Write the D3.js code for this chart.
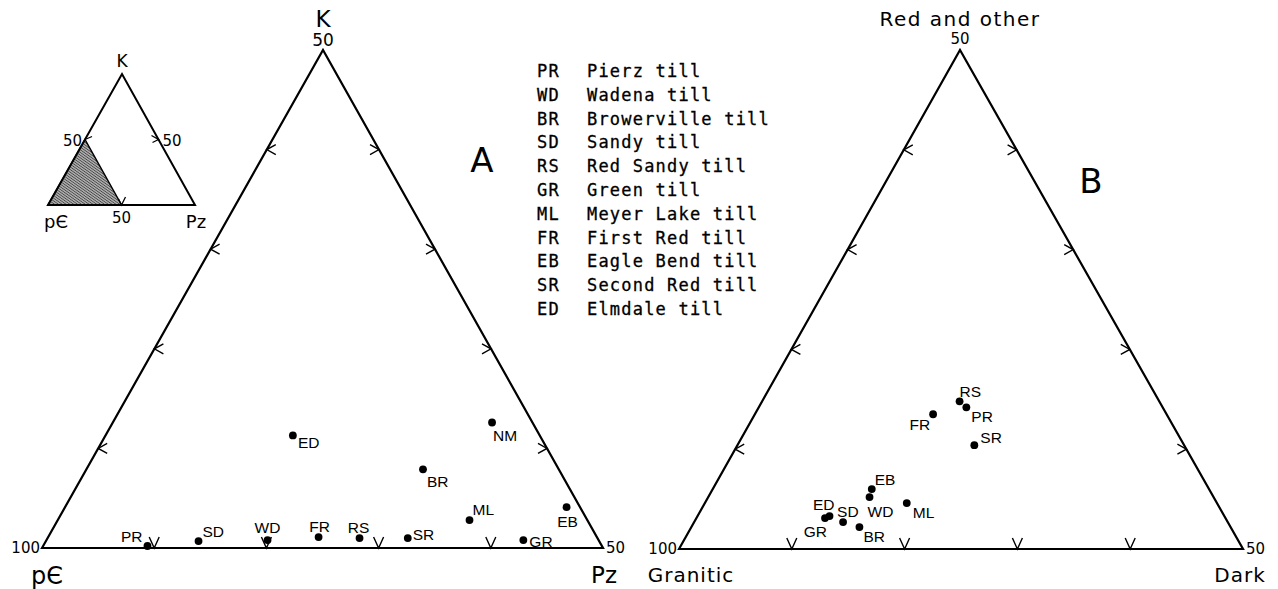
<!DOCTYPE html>
<html><head><meta charset="utf-8">
<script src="https://cdn.jsdelivr.net/npm/d3@7"></script>
<style>body{margin:0;background:#fff}svg{display:block}</style>
</head><body>
<script>
// ---------- DATA ----------
// Triangle A: K (top, 0-50), Pz (right, 0-50), p€ = remainder (50-100)
const codesA = ["PR","SD","WD","FR","ED","RS","SR","ML","GR","EB","BR","NM"];
const kA     = [0.2, 0.7, 0.8, 1.1, 11.3, 1.0, 1.0, 2.8, 0.8, 4.1, 7.9, 12.6];
const pzA    = [9.3, 13.6, 19.7, 24.1, 16.7, 27.8, 32.1, 36.7, 42.5, 44.7, 30.0, 33.8];
// Triangle B: Red and other (top, 0-50), Dark (right, 0-50), Granitic = remainder
const codesB = ["RS","PR","FR","SR","EB","WD","ML","ED","GR","SD","BR"];
const redB   = [14.8, 14.2, 13.5, 10.4, 6.0, 5.2, 4.6, 3.3, 3.1, 2.7, 2.2];
const darkB  = [17.5, 18.4, 15.8, 21.0, 14.1, 14.3, 17.9, 11.7, 11.4, 13.2, 14.9];
// Legend
const legendCodes = ["PR","WD","BR","SD","RS","GR","ML","FR","EB","SR","ED"];
const legendNames = ["Pierz till","Wadena till","Browerville till","Sandy till","Red Sandy till",
  "Green till","Meyer Lake till","First Red till","Eagle Bend till","Second Red till","Elmdale till"];
// Axis ticks (values on the 0-50 scale)
const tickValues = [10, 20, 30, 40];

// ---------- LABEL PLACEMENT (style) ----------
const placeA = {PR:[-5,-4,"end"],SD:[4,-4,"start"],WD:[0,-7,"middle"],FR:[1,-5,"middle"],
  ED:[5,13,"start"],RS:[-1,-5,"middle"],SR:[5,2,"start"],ML:[3,-5,"start"],GR:[6,7,"start"],
  EB:[1,20,"middle"],BR:[4,18,"start"],NM:[1,18,"start"]};
const placeB = {RS:[0,-4,"start"],PR:[5,15,"start"],FR:[-3,16,"end"],SR:[6,-2,"start"],
  EB:[3,-4,"start"],WD:[-2,20,"start"],ML:[6,15,"start"],ED:[5,-6,"end"],GR:[2,19,"end"],
  SD:[-6,-5,"start"],BR:[4,15,"start"]};

const W = 1278, H = 589;
const svg = d3.select("body").append("svg").attr("width", W).attr("height", H);

const defs = svg.append("defs");
const pat = defs.append("pattern").attr("id","hatch").attr("patternUnits","userSpaceOnUse")
  .attr("width",2.2).attr("height",2.2).attr("patternTransform","rotate(-55)");
pat.append("rect").attr("width",2.2).attr("height",2.2).attr("fill","#aaa");
pat.append("line").attr("x1",0).attr("y1",0).attr("x2",0).attr("y2",2.2)
  .attr("stroke","#222").attr("stroke-width",1.1);

const lettering = "'DejaVu Sans', sans-serif";
const labelFont = "'Liberation Sans', Arial, sans-serif";

function makeTernary(frame) {
  const s = d3.scaleLinear().domain([0, 50]).range([0, 1]);
  return function(top, right) {
    const b = s(top), c = s(right);
    return [frame.bl[0] + b*(frame.apex[0]-frame.bl[0]) + c*(frame.br[0]-frame.bl[0]),
            frame.bl[1] + b*(frame.apex[1]-frame.bl[1]) + c*(frame.br[1]-frame.bl[1])];
  };
}

function drawTriangle(frame, tops, rights, codes, place) {
  const pt = makeTernary(frame);
  const g = svg.append("g");
  const corners = [pt(0,0), pt(50,0), pt(0,50)];
  g.append("path").attr("d", d3.line()(corners) + "Z")
    .attr("fill","none").attr("stroke","#000").attr("stroke-width",2.2).attr("stroke-linejoin","miter");
  const tk = g.append("g").attr("stroke","#000").attr("stroke-width",1.4).attr("fill","none");
  tickValues.forEach(v => {
    const [x,y] = pt(v, 0);
    tk.append("path").attr("d", `M${x+9},${y-5}L${x},${y}L${x+9},${y+5}`);
  });
  tickValues.forEach(v => {
    const [x,y] = pt(v, 50 - v);
    tk.append("path").attr("d", `M${x-9},${y-5}L${x},${y}L${x-9},${y+5}`);
  });
  tickValues.forEach(v => {
    const [x,y] = pt(0, v);
    tk.append("path").attr("d", `M${x-5},${y-11}L${x},${y}L${x+5},${y-11}`);
  });
  codes.forEach((c, i) => {
    const [x,y] = pt(tops[i], rights[i]);
    g.append("circle").attr("cx",x).attr("cy",y).attr("r",3.9).attr("fill","#000");
    const p = place[c];
    g.append("text").attr("x", x + p[0]).attr("y", y + p[1]).attr("text-anchor", p[2])
      .attr("font-family", labelFont).attr("font-size", 15.5).text(c);
  });
  return pt;
}

const frameA = {apex:[323,50], bl:[42,548], br:[603,548]};
const frameB = {apex:[960,50], bl:[679,549], br:[1243,549]};
const ptA = drawTriangle(frameA, kA, pzA, codesA, placeA);
const ptB = drawTriangle(frameB, redB, darkB, codesB, placeB);

function txt(x, y, s, size, anchor, font, ls) {
  return svg.append("text").attr("x",x).attr("y",y).attr("font-size",size)
    .attr("text-anchor",anchor || "middle").attr("font-family", font || lettering)
    .attr("letter-spacing", ls || 0).text(s);
}

// Triangle A labels
const aTop = ptA(50,0), aBL = ptA(0,0), aBR = ptA(0,50);
txt(aTop[0], 27, "K", 23);
txt(aTop[0], 46, "50", 17);
txt(aBL[0]-2, aBL[1]+5, "100", 15, "end");
txt(aBR[0]+3, aBR[1]+5, "50", 15, "start");
txt(47, 584, "pЄ", 24);
txt(aBR[0]+1, 583, "Pz", 23);
txt(482, 172, "A", 34);

// Triangle B labels
const bTop = ptB(50,0), bBL = ptB(0,0), bBR = ptB(0,50);
txt(bTop[0], 26, "Red and other", 20, "middle", lettering, 1.5);
txt(bTop[0], 44, "50", 15);
txt(bBL[0]-2, bBL[1]+5, "100", 15, "end");
txt(bBR[0]+3, bBR[1]+5, "50", 15, "start");
txt(691, 582, "Granitic", 20, "middle", lettering, 1);
txt(1240, 582, "Dark", 20, "middle", lettering, 1);
txt(1091, 193, "B", 34);

// Legend
const legY = d3.scaleLinear().domain([0, legendCodes.length - 1]).range([77, 77 + 23.8*10]);
legendCodes.forEach((c, i) => {
  txt(537, legY(i), c, 17, "start", "'DejaVu Sans Mono', monospace", 1.2)
    .attr("stroke","#000").attr("stroke-width",0.3);
  txt(587, legY(i), legendNames[i], 17, "start", "'DejaVu Sans Mono', monospace", 1.2)
    .attr("stroke","#000").attr("stroke-width",0.3);
});

// Inset triangle
const frameI = {apex:[122,74], bl:[48,205], br:[195,205]};
const ptI = makeTernary(frameI);
svg.append("path").attr("d", d3.line()([ptI(0,0), ptI(25,0), ptI(0,25)]) + "Z")
  .attr("fill","url(#hatch)").attr("stroke","#000").attr("stroke-width",1.5);
svg.append("path").attr("d", d3.line()([ptI(0,0), ptI(50,0), ptI(0,50)]) + "Z")
  .attr("fill","none").attr("stroke","#000").attr("stroke-width",2);
{
  const [lx,ly] = ptI(25,0), [rx,ry] = ptI(25,25), [bx,by] = ptI(0,25);
  const ti = svg.append("g").attr("stroke","#000").attr("stroke-width",1.3).attr("fill","none");
  ti.append("path").attr("d", `M${lx+7},${ly-3}L${lx},${ly}`);
  ti.append("path").attr("d", `M${rx-7},${ry-4}L${rx},${ry}L${rx-6},${ry+3}`);
  ti.append("path").attr("d", `M${bx-3},${by-6}L${bx},${by}L${bx+4},${by-8}`);
  txt(lx-3, ly+6, "50", 15, "end");
  txt(rx+4, ry+6, "50", 15, "start");
  txt(bx, by+18, "50", 15, "middle");
  txt(ptI(50,0)[0], 67, "K", 17);
  txt(56, 228, "pЄ", 18);
  txt(196, 228, "Pz", 18);
}
</script>
</body></html>
